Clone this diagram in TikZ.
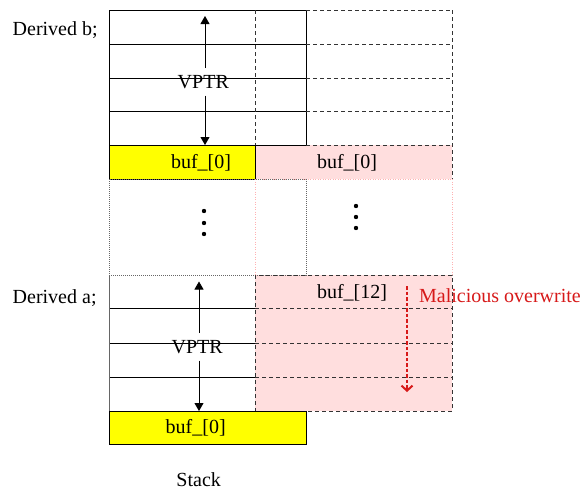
\documentclass[tikz,border=0pt]{standalone}
\usepackage{fontspec}
\setmainfont{Liberation Serif}
\usetikzlibrary{arrows.meta}
\definecolor{bufyellow}{RGB}{255,255,0}
\definecolor{bufpink}{RGB}{255,222,222}
\definecolor{evilred}{RGB}{215,25,25}
\begin{document}
\begin{tikzpicture}[x=1pt,y=-1pt,
  lbl/.style={inner sep=0pt, font=\fontsize{20}{24}\selectfont},
  solidline/.style={draw=black, line width=0.8pt},
  dashline/.style={draw=black!80, line width=0.8pt, dash pattern=on 4pt off 3pt},
  dotline/.style={draw=black!60, line width=0.8pt, dash pattern=on 1pt off 1pt},
  pinkdot/.style={draw=red!30, line width=0.8pt, dash pattern=on 1pt off 1.5pt},
  arr/.style={line width=0.8pt, -{Triangle[length=8pt,width=9pt]}},
  evil/.style={draw=evilred, line width=2pt, dash pattern=on 3.5pt off 2pt,
    -{Straight Barb[length=5pt,width=11pt,line width=2pt]}},
  gap/.style={outer ysep=7pt}
]
\useasboundingbox (0,0) rectangle (586,490);

% backgrounds of the buffer cells
\fill[bufpink] (255,145) rectangle (452,179);
\fill[bufpink] (255,275) rectangle (452,411);
\fill[bufyellow] (109,145) rectangle (255,179);
\fill[bufyellow] (109,411) rectangle (306,444);

% object b: vptr words and overlaid buffer area
\draw[solidline] (109,10) rectangle (306,145);
\foreach \y in {44,78,111} \draw[solidline] (109,\y) -- (306,\y);
\draw[dashline] (255,10) -- (255,145);
\foreach \y in {10,44,78,111,145} \draw[dashline] (306,\y) -- (452,\y);
\draw[dashline] (452,10) -- (452,179);
\draw[solidline] (109,145) rectangle (255,179);
\draw[pinkdot] (255,179) -- (452,179);

% gap between the two objects
\draw[dotline] (109,179) rectangle (306,275);
\draw[pinkdot] (255,179) -- (255,275);
\draw[pinkdot] (452,179) -- (452,275);
\foreach \y in {211,223,234} \fill (204,\y) circle (2.2pt);
\foreach \y in {206,217,228} \fill (356,\y) circle (2.2pt);

% object a: vptr words, overflowed buffer, own buffer
\draw[dashline] (255,275) rectangle (452,411);
\foreach \y in {308,343,377} {
  \draw[solidline] (109,\y) -- (255,\y);
  \draw[dashline] (255,\y) -- (452,\y);
}
\draw[draw=black!60, line width=0.8pt] (109,275) -- (109,411);
\draw[solidline] (109,411) rectangle (306,444);

% labels
\node[lbl, anchor=base west] (derb) at (12.5,35.7) {Derived b;};
\node[lbl, anchor=base west] (dera) at (12.5,303.7) {Derived a;};
\node[lbl, anchor=base] (stack) at (198.7,486) {Stack};
\node[lbl, anchor=base] (bufbY) at (201,168.3) {buf\_[0]};
\node[lbl, anchor=base] (bufbP) at (347,168.3) {buf\_[0]};
\node[lbl, anchor=base] (bufa) at (195.7,433.3) {buf\_[0]};
\node[lbl, anchor=base] (buf12) at (352,298.3) {buf\_[12]};
\node[lbl, anchor=base west, text=evilred] (evtxt) at (419,302.3) {Malicious overwrite};
\node[lbl, anchor=base, gap] (vptrb) at (203.3,88.3) {VPTR};
\node[lbl, anchor=base, gap] (vptra) at (197.2,353.3) {VPTR};

% vptr span arrows
\coordinate (bTop) at (205,16);
\coordinate (bBot) at (205,145);
\draw[arr] (vptrb.north -| bTop) -- (bTop);
\draw[arr] (vptrb.south -| bBot) -- (bBot);
\coordinate (aTop) at (199,281.5);
\coordinate (aBot) at (199,411);
\draw[arr] (vptra.north -| aTop) -- (aTop);
\draw[arr] (vptra.south -| aBot) -- (aBot);

% overwrite direction
\coordinate (evS) at (407,286);
\coordinate (evE) at (407,392);
\draw[evil] (evS) -- (evE);
\end{tikzpicture}
\end{document}
